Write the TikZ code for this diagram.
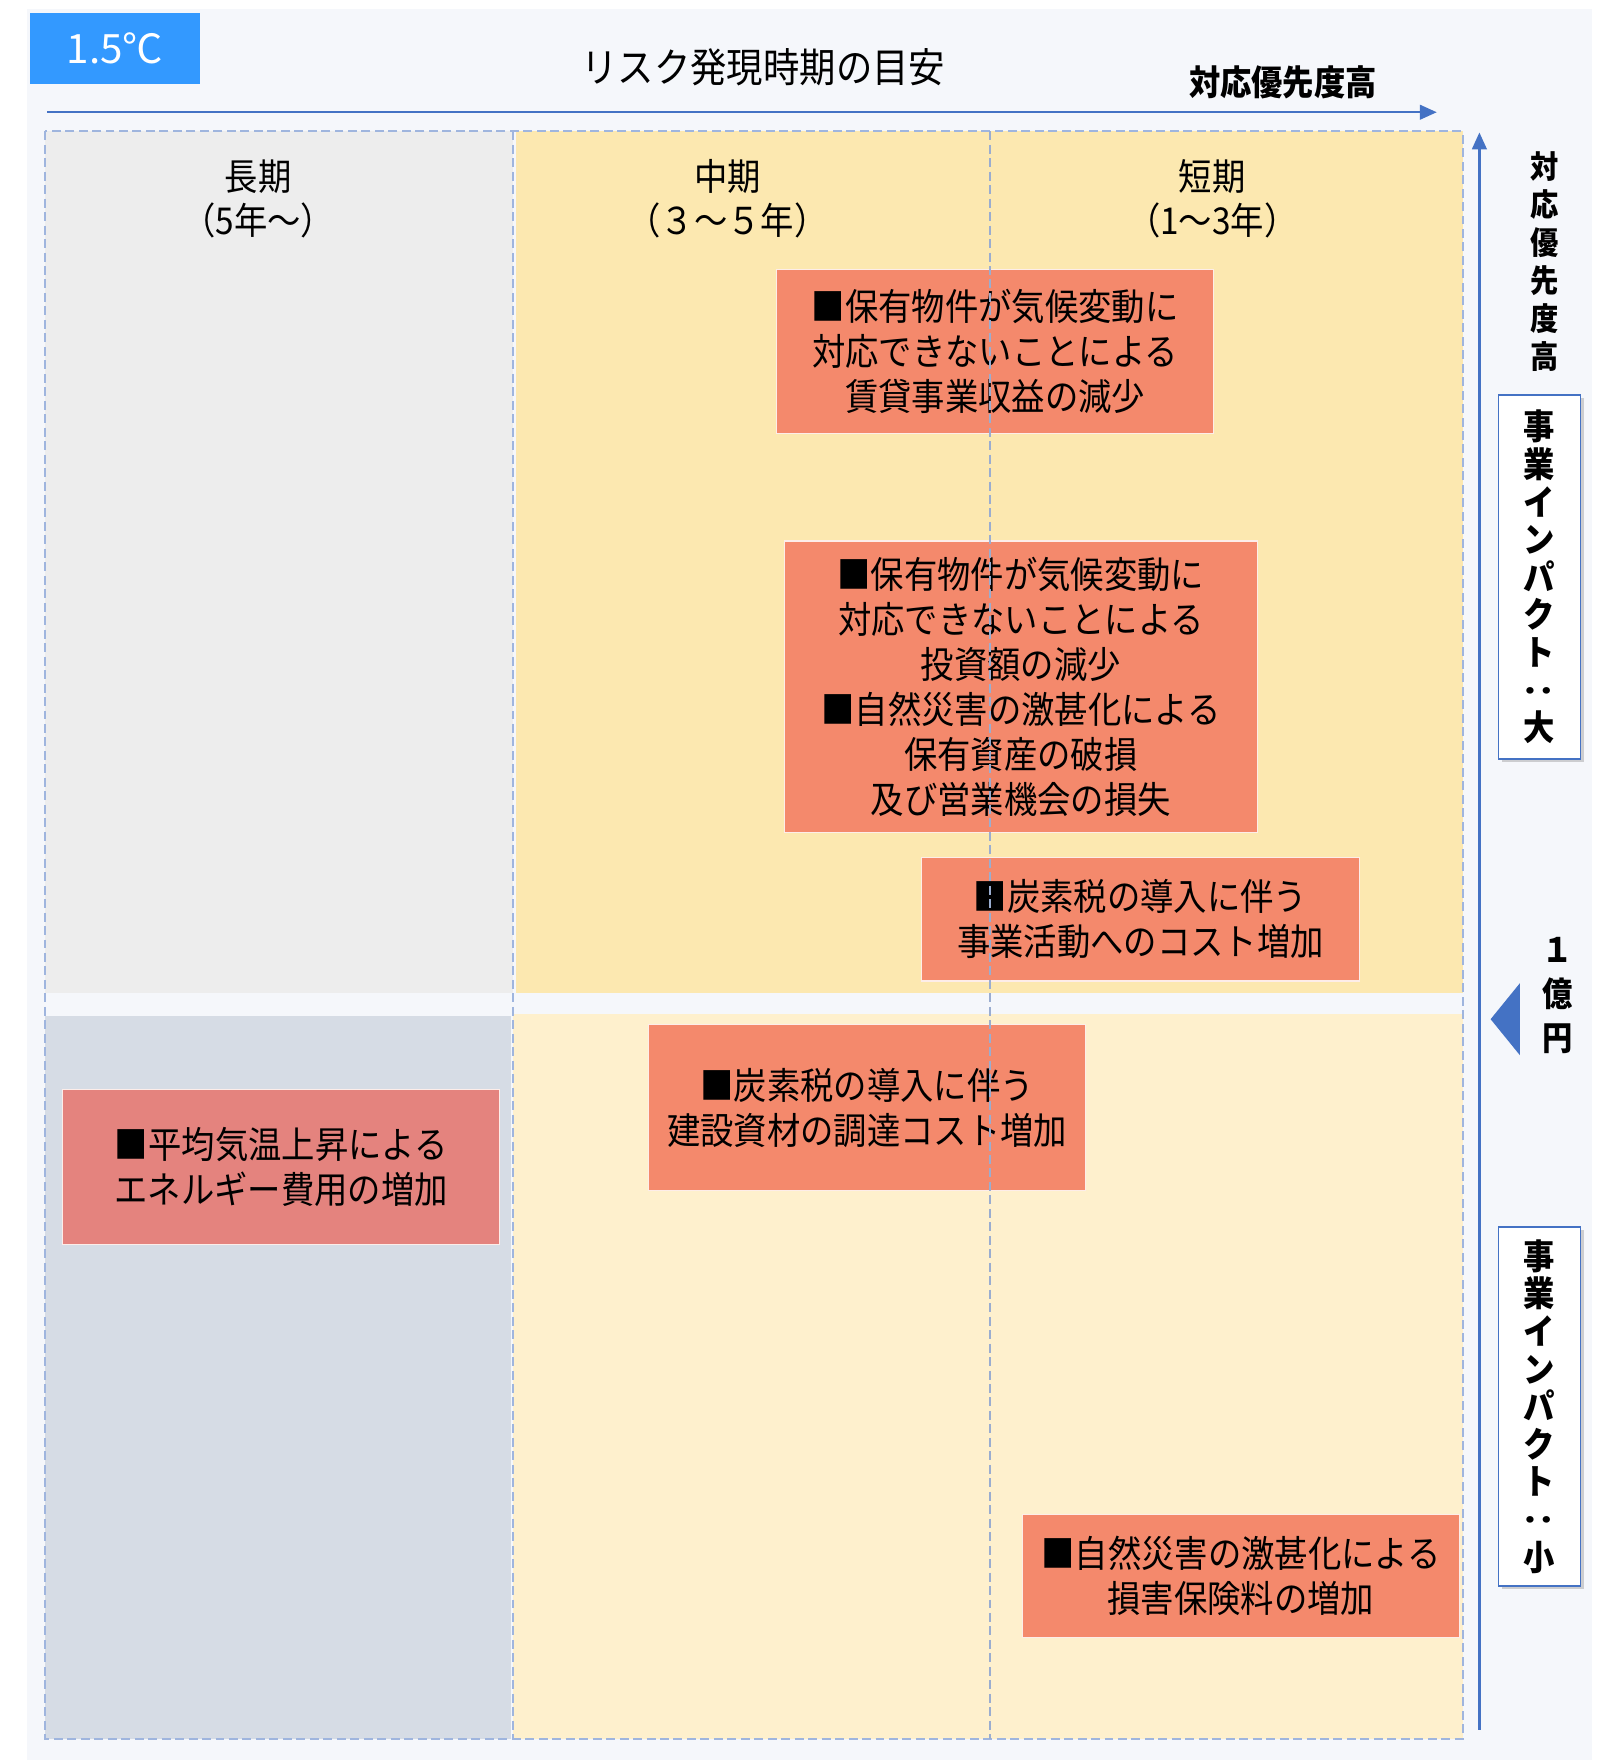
\documentclass[tikz,border=0pt]{standalone}
\usepackage{fontspec}
\usepackage{graphicx}
\usetikzlibrary{arrows.meta,shadows}
\newfontfamily\jp[FakeStretch=0.9]{Noto Sans CJK JP}
\newfontfamily\jpwide{Noto Sans CJK JP}
\definecolor{bgc}{HTML}{F5F7FB}
\definecolor{grayc}{HTML}{EDEDED}
\definecolor{yel}{HTML}{FCE8B0}
\definecolor{lyel}{HTML}{FEF0CD}
\definecolor{bluegray}{HTML}{D6DCE5}
\definecolor{salmon}{HTML}{F4896C}
\definecolor{pinkred}{HTML}{E4837E}
\definecolor{dashc}{HTML}{9FB5DE}
\definecolor{axisblue}{HTML}{4472C4}
\definecolor{tagblue}{HTML}{3399FF}
\begin{document}
\begin{tikzpicture}[x=1pt,y=-1pt,
  every node/.style={font=\jp, inner sep=0pt},
  riskbox/.style={draw=white!85!salmon, line width=1pt, fill=salmon, align=center,
    font=\jp\fontsize{33}{40}\selectfont, minimum width=#1},
  hdr/.style={align=center, font=\jp\fontsize{33}{39}\selectfont},
  dashln/.style={draw=dashc, line width=1.8pt, dash pattern=on 8pt off 4pt},
  axisarrow/.style={draw=axisblue, line width=2pt, -{Triangle[length=15pt,width=13pt]}},
  impact/.style={draw=axisblue, line width=1.5pt, fill=white, minimum width=73, align=center,
    font=\jp\bfseries\fontsize{31}{33.5}\selectfont, drop shadow={shadow xshift=3pt, shadow yshift=-3pt, opacity=0.35}},
  vlabel/.style={align=center, font=\jp\bfseries\fontsize{28}{34}\selectfont}
]
\useasboundingbox (0,0) rectangle (1425,1568);
\fill[white] (0,0) rectangle (1425,1568);
\fill[bgc] (24,8) rectangle (1418,1568);
% cells
\fill[grayc] (40,117) rectangle (457,885);
\fill[yel] (460,117) rectangle (1303,885);
\fill[bluegray] (40,905) rectangle (455,1549);
\fill[lyel] (457,903) rectangle (1303,1549);
\draw[dashln] (40,117) rectangle (1303,1549);
\draw[dashln] (457,117) -- (457,1549);
% tag
\node[fill=tagblue, minimum width=151, minimum height=63, text=white, font=\jpwide\fontsize{36}{40}\selectfont] (tag) at (102.5,43.5) {1.5℃};
% title
\node[font=\jp\fontsize{36}{40}\selectfont] (title) at (680,60) {リスク発現時期の目安};
\node[font=\jp\bfseries\fontsize{31}{36}\selectfont] (prioH) at (1143,73) {対応優先度高};
% axes
\coordinate (hs) at (42,100);
\coordinate (he) at (1280,100);
\draw[axisarrow] (hs) -- (he);
\coordinate (vs) at (1318,1541);
\coordinate (ve) at (1318,118);
\draw[axisarrow] (vs) -- (ve);
% headers
\node[hdr] (h1) at (230,177) {長期\\（5年～）};
\node[hdr] (h2) at (648,177) {中期\\（３～５年）};
\node[hdr] (h3) at (1080,177) {短期\\（1～3年）};
% risk boxes
\node[riskbox=389, minimum height=146] (r1) at (886.5,313) {■保有物件が気候変動に\\対応できないことによる\\賃貸事業収益の減少};
\node[riskbox=421, minimum height=260] (r2) at (909.5,612) {■保有物件が気候変動に\\対応できないことによる\\投資額の減少\\■自然災害の激甚化による\\保有資産の破損\\及び営業機会の損失};
\node[riskbox=390, minimum height=110] (r3) at (1016,819) {■炭素税の導入に伴う\\事業活動へのコスト増加};
\node[riskbox=389, minimum height=148] (r4) at (772.5,987) {■炭素税の導入に伴う\\建設資材の調達コスト増加};
\node[riskbox=389, minimum height=138, fill=pinkred] (r5) at (250.5,1040) {■平均気温上昇による\\エネルギー費用の増加};
\node[riskbox=389, minimum height=110] (r6) at (1105.5,1404) {■自然災害の激甚化による\\損害保険料の増加};
% middle dashed divider over boxes
\draw[dashln, draw=dashc!85!gray, line width=1.5pt] (882,117) -- (882,1549);
% right side labels
\node[vlabel] (prioV) at (1376,233) {対\\応\\優\\先\\度\\高};
\node[impact, minimum height=324] (big) at (1371.5,514) {事\\業\\イ\\ン\\パ\\ク\\ト\\\rotatebox[origin=c]{90}{：}\\大};
\node[impact, minimum height=320] (small) at (1371.5,1253) {事\\業\\イ\\ン\\パ\\ク\\ト\\\rotatebox[origin=c]{90}{：}\\小};
\fill[axisblue] (1328,908) -- (1354,876) -- (1354,940) -- cycle;
\node[align=center, font=\jp\bfseries\fontsize{30}{39}\selectfont] (oku) at (1388,887) {１\\億\\円};
\end{tikzpicture}
\end{document}
